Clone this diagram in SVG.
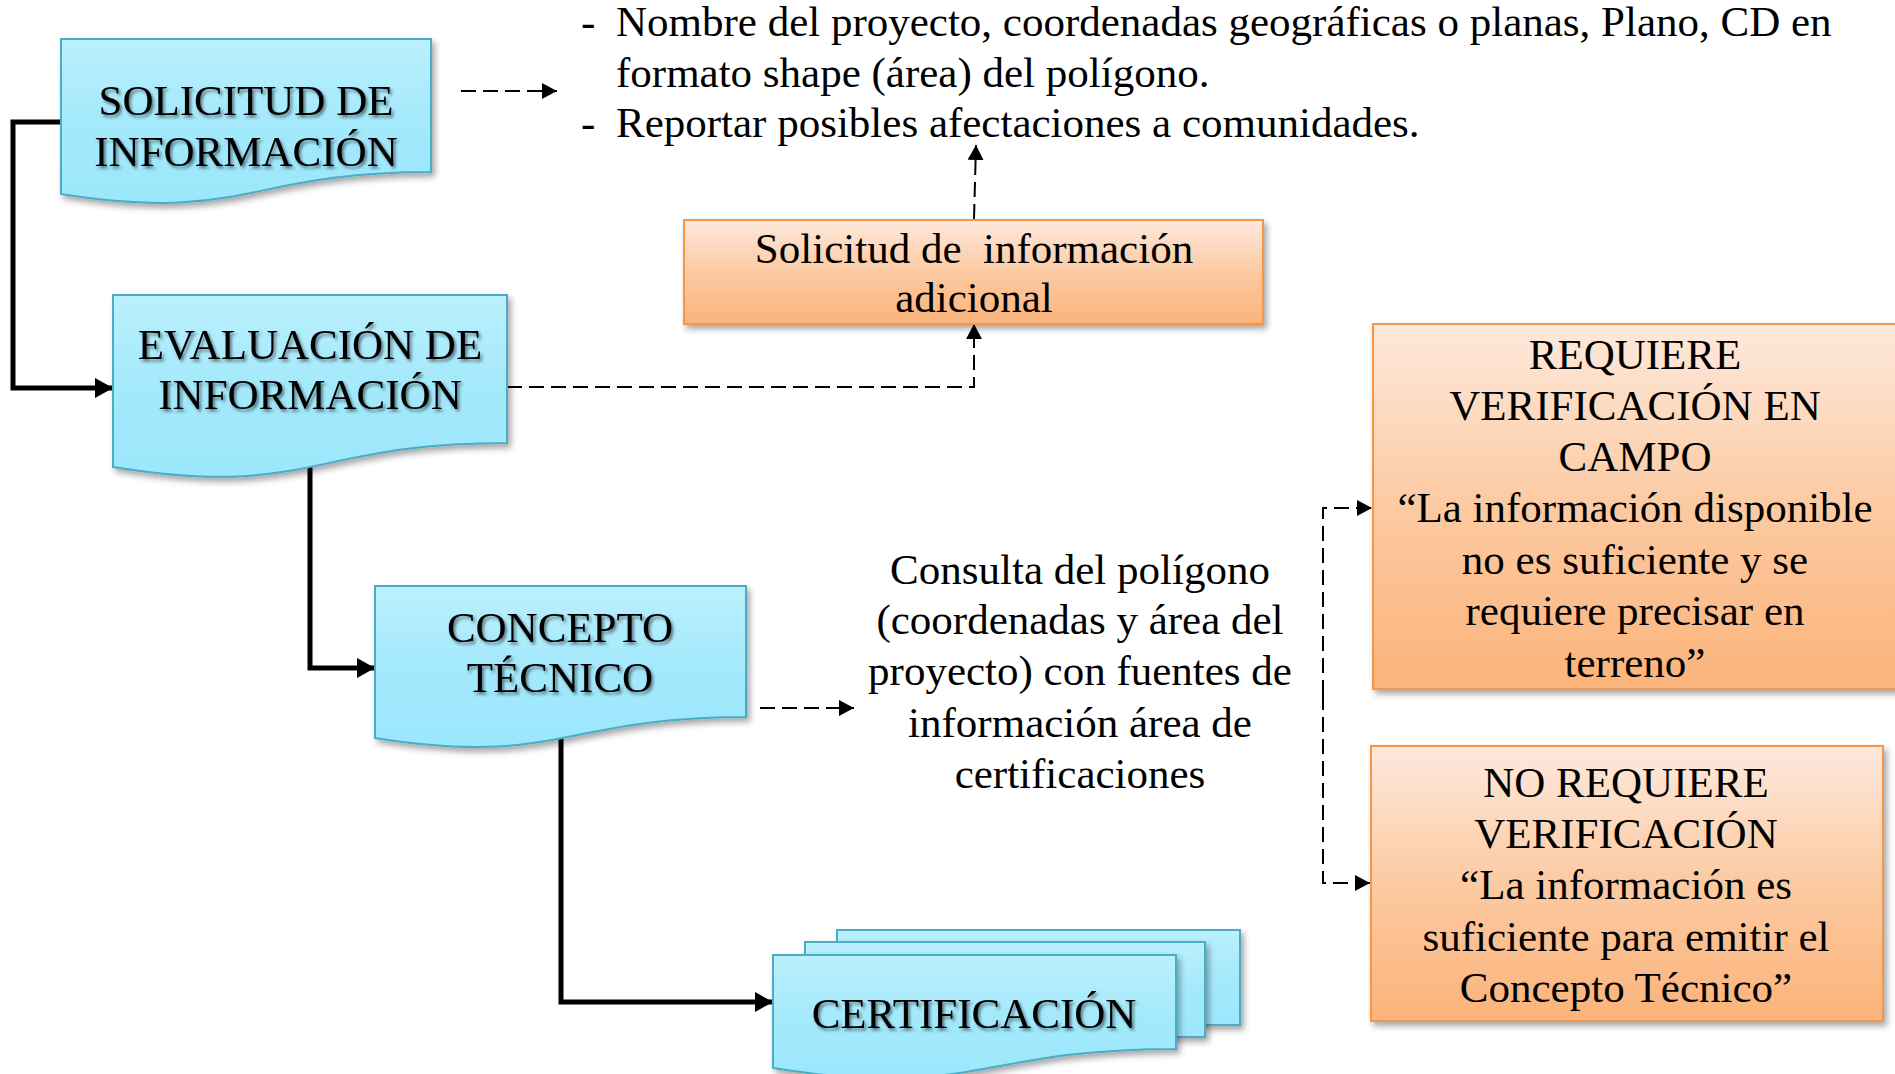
<svg xmlns="http://www.w3.org/2000/svg" width="1895" height="1074" viewBox="0 0 1895 1074">
<defs>
<linearGradient id="gBlue" x1="0" y1="0" x2="0" y2="1">
<stop offset="0" stop-color="#bbf0fd"/>
<stop offset="0.5" stop-color="#a4e9fc"/>
<stop offset="1" stop-color="#9ce7fc"/>
</linearGradient>
<linearGradient id="gOrange" x1="0" y1="0" x2="0" y2="1">
<stop offset="0" stop-color="#fde9dc"/>
<stop offset="0.5" stop-color="#fccaa2"/>
<stop offset="1" stop-color="#fbb37a"/>
</linearGradient>
<filter id="boxShadow" x="-10%" y="-10%" width="125%" height="130%">
<feDropShadow dx="3" dy="4" stdDeviation="3" flood-color="#000" flood-opacity="0.35"/>
</filter>
<filter id="txtShadow" x="-5%" y="-20%" width="115%" height="150%">
<feDropShadow dx="2" dy="2.5" stdDeviation="1.4" flood-color="#000" flood-opacity="0.5"/>
</filter>
<marker id="arrBold" markerUnits="userSpaceOnUse" markerWidth="18" markerHeight="20" refX="18" refY="10" orient="auto">
<path d="M0,0 L18,10 L0,20 Z" fill="#000"/>
</marker>
<marker id="arrThin" markerUnits="userSpaceOnUse" markerWidth="15" markerHeight="16" refX="15" refY="8" orient="auto">
<path d="M0,0 L15,8 L0,16 Z" fill="#000"/>
</marker>
<style>
.blue{fill:url(#gBlue);stroke:#4bacc6;stroke-width:2;filter:url(#boxShadow);}
.orange{fill:url(#gOrange);stroke:#f79646;stroke-width:2;filter:url(#boxShadow);}
.t{font-family:"Liberation Serif","Times New Roman",serif;font-size:43px;fill:#000;}
.c{text-anchor:middle;}
.sh{filter:url(#txtShadow);}
.bold{fill:none;stroke:#000;stroke-width:5;stroke-linejoin:miter;marker-end:url(#arrBold);}
.dash{fill:none;stroke:#000;stroke-width:2;stroke-dasharray:15 7;marker-end:url(#arrThin);}
</style>
</defs>
<rect width="1895" height="1074" fill="#fff"/>

<g id="connectors">
<path class="bold" d="M61,122 H13 V388 H113"/>
<path class="bold" d="M310,467 V668 H375"/>
<path class="bold" d="M561,738 V1002 H773"/>
<path class="dash" d="M461,91 H557"/>
<path class="dash" d="M507,387 H974 V324"/>
<path class="dash" d="M974,219 L976,145"/>
<path class="dash" d="M760,708 H854"/>
<path class="dash" d="M1323,695 V508 H1372"/>
<path class="dash" d="M1323,695 V883 H1370"/>
</g>

<g id="solicitud">
<path class="blue" d="M61,39 H431 V172 C246,172 246,223 61,194 Z"/>
<text class="t c sh" x="246" y="115">SOLICITUD DE</text>
<text class="t c sh" x="246" y="166">INFORMACIÓN</text>
</g>

<g id="requisitos">
<text class="t" x="581" y="36">-</text>
<text class="t" x="616" y="36">Nombre del proyecto, coordenadas geográficas o planas, Plano, CD en</text>
<text class="t" x="616" y="87">formato shape (área) del polígono.</text>
<text class="t" x="581" y="137">-</text>
<text class="t" x="616" y="137">Reportar posibles afectaciones a comunidades.</text>
</g>

<g id="evaluacion">
<path class="blue" d="M113,295 H507 V443 C310,443 310,499 113,467 Z"/>
<text class="t c sh" x="310" y="359">EVALUACIÓN DE</text>
<text class="t c sh" x="310" y="409">INFORMACIÓN</text>
</g>

<g id="solicitud-adicional">
<rect class="orange" x="684" y="220" width="579" height="104"/>
<text class="t c" x="974" y="263" xml:space="preserve">Solicitud de  información</text>
<text class="t c" x="974" y="312">adicional</text>
</g>

<g id="concepto">
<path class="blue" d="M375,586 H746 V717 C560,717 560,767 375,738 Z"/>
<text class="t c sh" x="560" y="642">CONCEPTO</text>
<text class="t c sh" x="560" y="692">TÉCNICO</text>
</g>

<g id="consulta">
<text class="t c" x="1080" y="584">Consulta del polígono</text>
<text class="t c" x="1080" y="634">(coordenadas y área del</text>
<text class="t c" x="1080" y="685">proyecto) con fuentes de</text>
<text class="t c" x="1080" y="737">información área de</text>
<text class="t c" x="1080" y="788">certificaciones</text>
</g>

<g id="requiere">
<rect class="orange" x="1373" y="324" width="526" height="365"/>
<text class="t c" x="1635" y="369">REQUIERE</text>
<text class="t c" x="1635" y="420">VERIFICACIÓN EN</text>
<text class="t c" x="1635" y="471">CAMPO</text>
<text class="t c" x="1635" y="522">“La información disponible</text>
<text class="t c" x="1635" y="574">no es suficiente y se</text>
<text class="t c" x="1635" y="625">requiere precisar en</text>
<text class="t c" x="1635" y="677">terreno”</text>
</g>

<g id="no-requiere">
<rect class="orange" x="1371" y="746" width="512" height="275"/>
<text class="t c" x="1626" y="797">NO REQUIERE</text>
<text class="t c" x="1626" y="848">VERIFICACIÓN</text>
<text class="t c" x="1626" y="899">“La información es</text>
<text class="t c" x="1626" y="951">suficiente para emitir el</text>
<text class="t c" x="1626" y="1002">Concepto Técnico”</text>
</g>

<g id="certificacion">
<rect class="blue" x="837" y="930" width="403" height="95"/>
<rect class="blue" x="805" y="942" width="400" height="95"/>
<path class="blue" d="M773,955 H1176 V1049 C975,1049 975,1100 773,1068 Z"/>
<text class="t c sh" x="974" y="1028">CERTIFICACIÓN</text>
</g>
</svg>
